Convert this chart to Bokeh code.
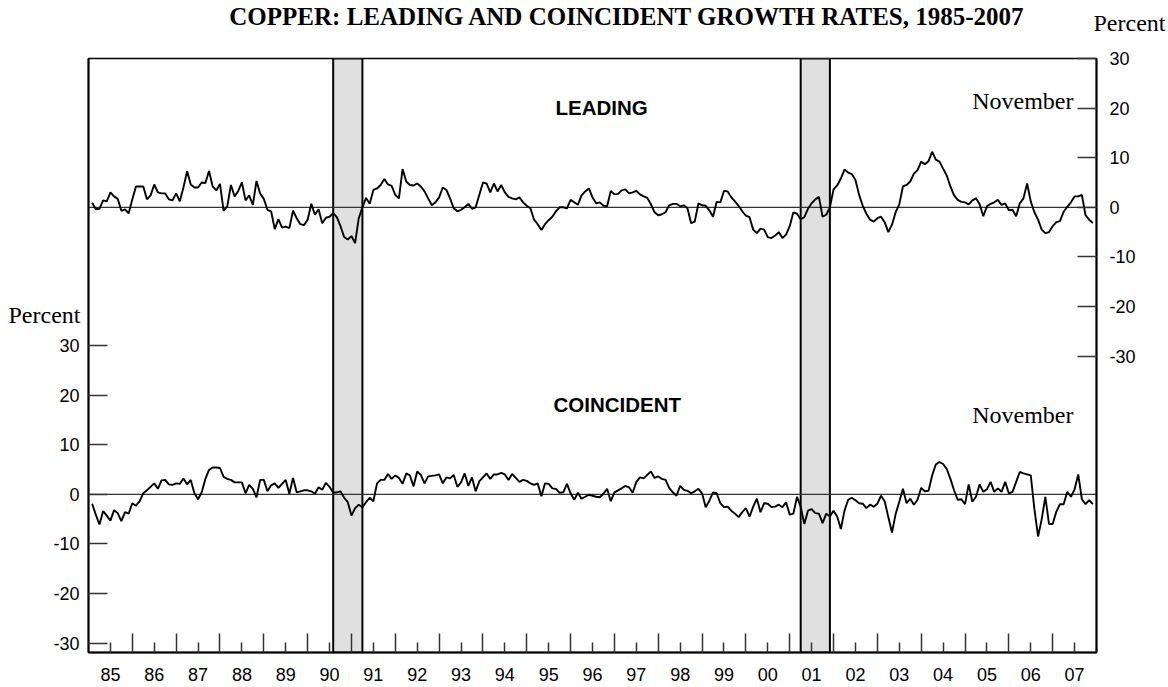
from bokeh.plotting import figure
from bokeh.models import Range1d, LinearAxis, FixedTicker, BoxAnnotation, Span, Label, GridBox
from bokeh.embed import file_html
from bokeh.resources import INLINE

# ---------------- data (monthly, Jan 1985 - Nov 2007) ----------------
start_year = 1985
leading = [
    0.9, -0.4, -0.3, 1.4, 1.2, 3.0, 2.2, 1.7, -0.7, -0.4, -1.2, 1.6,
    4.2, 4.2, 4.2, 1.6, 2.4, 4.6, 3.0, 2.8, 2.8, 1.6, 1.4, 2.8,
    1.2, 4.0, 7.3, 4.6, 4.0, 4.0, 5.0, 4.9, 7.3, 4.2, 3.4, 4.7,
    -0.7, 0.2, 4.5, 2.2, 3.3, 5.0, 1.4, 2.4, 0.5, 5.3, 2.8, 1.7,
    -0.5, -0.8, -4.4, -2.4, -4.1, -3.9, -4.2, -0.7, -2.2, -3.4, -3.6, -2.5,
    0.7, -1.5, -0.4, -3.2, -2.1, -1.9, -1.2, -2.0, -3.8, -6.0, -6.5, -5.8,
    -7.2, -2.2, 0.0, 1.9, 0.7, 3.5, 3.8, 4.5, 5.7, 4.6, 4.3, 2.5,
    1.8, 7.7, 5.2, 4.5, 4.4, 4.8, 4.2, 3.2, 1.8, 0.4, 1.0, 2.0,
    4.0, 3.5, 1.8, -0.2, -0.8, -0.5, 0.0, 0.7, -0.3, 0.0, 2.5, 5.0,
    4.8, 3.0, 4.8, 3.2, 4.5, 3.0, 2.1, 1.8, 1.6, 2.0, 1.0, 0.3,
    -0.2, -2.5, -3.4, -4.6, -3.4, -2.6, -1.9, -0.8, 0.0, 0.0, -0.2, 1.5,
    1.0, 0.5, 2.4, 3.2, 3.8, 2.0, 0.8, 1.0, 0.3, 0.2, 3.3, 2.6,
    2.7, 3.4, 3.6, 2.8, 3.0, 3.3, 2.6, 2.2, 1.9, 0.6, -1.0, -1.6,
    -1.4, -1.0, 0.4, 0.7, 0.7, 0.2, 0.4, -0.2, -3.2, -2.9, 0.8, 0.4,
    0.3, -0.6, -1.9, 1.1, 1.0, 3.3, 3.2, 2.0, 1.2, 0.3, -0.8, -1.7,
    -2.0, -4.5, -5.2, -4.3, -4.5, -6.0, -6.2, -5.7, -5.0, -6.2, -5.5, -3.8,
    -1.0, -1.3, -2.4, -2.0, -0.3, 0.8, 1.6, 2.1, -1.9, -1.5, 0.0, 3.6,
    4.4, 5.8, 7.6, 7.0, 6.7, 5.5, 2.5, 0.3, -1.3, -2.5, -2.9, -2.2,
    -1.9, -3.0, -5.0, -3.5, -1.0, 0.6, 4.2, 4.5, 5.2, 6.8, 7.5, 9.2,
    8.7, 9.3, 11.2, 9.6, 9.2, 7.8, 6.4, 4.2, 2.4, 1.5, 1.1, 1.0,
    0.6, 1.4, 1.8, 0.6, -1.8, 0.2, 0.7, 1.0, 1.5, 0.5, 0.8, -0.6,
    -0.5, -1.8, 0.8, 1.8, 4.8, 1.2, -1.0, -2.5, -4.5, -5.2, -5.0, -3.8,
    -3.0, -2.8, -0.9, 0.1, 1.0, 2.2, 2.2, 2.5, -1.6, -2.5, -3.2,
]
coincident = [
    -1.9, -4.1, -6.1, -3.4, -4.3, -5.3, -3.2, -3.8, -5.4, -3.6, -3.9, -1.8,
    -2.3, -1.4, 0.2, 0.8, 1.5, 2.2, 1.1, 2.8, 2.9, 2.0, 1.9, 2.2,
    2.1, 3.2, 2.0, 2.9, 0.2, -1.0, 0.4, 3.1, 4.9, 5.4, 5.4, 5.3,
    3.5, 3.1, 2.9, 2.4, 2.4, 2.4, 0.2, 1.9, 1.1, -0.6, 2.9, 2.9,
    0.6, 1.8, 2.2, 1.3, 2.1, 2.9, 0.1, 3.3, 0.4, 0.6, 0.8, 0.8,
    0.6, 0.1, 1.4, 0.9, 2.3, 1.5, 0.3, 0.4, 0.6, -0.7, -1.6, -4.3,
    -2.8, -2.1, -2.6, -1.6, -0.7, -1.4, 2.2, 2.9, 2.9, 4.1, 3.1, 3.8,
    3.3, 2.1, 4.2, 3.8, 1.6, 4.6, 3.9, 2.2, 3.6, 3.7, 3.8, 4.0,
    2.2, 3.4, 3.2, 3.9, 1.5, 2.4, 4.2, 1.7, 3.4, 0.6, 2.6, 3.4,
    4.2, 3.1, 4.0, 4.0, 4.3, 4.0, 2.9, 4.1, 3.3, 2.5, 2.9, 2.7,
    2.2, 1.9, 2.2, -0.4, 2.2, 2.1, 1.2, 1.1, 0.3, 0.4, 2.1, 0.2,
    -1.1, 0.3, -0.9, -0.5, -0.1, -0.3, -0.5, -0.6, 0.1, 1.1, -1.4, 0.4,
    0.8, 1.2, 1.7, 1.4, 0.3, 2.5, 3.4, 3.2, 3.9, 4.6, 3.3, 3.6,
    3.1, 2.9, 1.3, 0.4, -0.3, 1.7, 0.9, 0.7, 0.2, 0.6, 1.1, 0.2,
    -2.6, -1.3, 0.4, 0.2, -1.8, -2.6, -2.5, -3.3, -3.9, -4.6, -3.6, -2.8,
    -4.5, -2.5, -0.9, -3.6, -1.8, -1.9, -2.6, -2.5, -2.1, -2.6, -1.6, -4.1,
    -3.9, -0.5, -2.5, -6.0, -3.3, -3.0, -3.8, -3.9, -5.8, -3.9, -4.5, -3.3,
    -4.5, -7.0, -3.3, -1.1, -0.7, -1.2, -1.8, -1.9, -2.8, -2.1, -2.5, -1.9,
    -0.3, -1.4, -4.6, -7.7, -4.0, -1.5, 1.1, -1.8, -0.9, -2.1, -1.1, 1.3,
    0.6, 0.7, 3.8, 6.0, 6.5, 6.1, 5.1, 3.1, 0.8, -1.1, -1.0, -2.0,
    2.0, -1.5, -0.5, 2.0, 0.5, 1.0, 2.5, 0.5, 1.2, 0.5, 2.5, 0.2,
    0.5, 2.5, 4.5, 4.2, 4.0, 3.8, -3.0, -8.5, -5.0, -0.5, -6.0, -6.0,
    -3.5, -2.0, -2.0, 0.5, -0.5, 1.0, 4.0, -1.0, -2.0, -1.2, -2.0,
]
years = list(range(1985, 2008))
year_labels = ["85", "86", "87", "88", "89", "90", "91", "92", "93", "94", "95", "96",
               "97", "98", "99", "00", "01", "02", "03", "04", "05", "06", "07"]
y_ticks = [-30, -20, -10, 0, 10, 20, 30]
y_tick_labels = ["-30", "-20", "-10", "0", "10", "20", "30"]
recession_start = [(1990, 7), (2001, 3)]
recession_end = [(1991, 3), (2001, 11)]

dates = [start_year + (k + 1) / 12 for k in range(len(leading))]

# ---------------- main figure ----------------
SERIF = "Liberation Serif"
SANS = "Liberation Sans"
W, H = 1168, 687
BL, BR, BT, BB = 88, 72, 58, 35   # borders around the plotting frame

p = figure(width=W, height=H, title=None, output_backend="svg", toolbar_location=None,
           x_range=Range1d(1985, 2008), y_range=Range1d(-31.9, 87.86),
           min_border_left=BL, min_border_right=BR, min_border_top=BT, min_border_bottom=BB)
p.extra_y_ranges = {"leading": Range1d(-89.76, 30)}
p.xgrid.visible = False
p.ygrid.visible = False
p.outline_line_color = "black"
p.outline_line_width = 1.5
p.background_fill_color = "white"
p.border_fill_color = "white"

for (sy, sm), (ey, em) in zip(recession_start, recession_end):
    p.add_layout(BoxAnnotation(left=sy + sm / 12, right=ey + em / 12, fill_color="#e0e0e0",
                               fill_alpha=1.0, line_color="black", line_alpha=1.0,
                               line_width=2, level="underlay"))

p.add_layout(Span(location=0, dimension="width", line_color="#333333", line_width=1.3, level="underlay"))
p.add_layout(Span(location=0, dimension="width", y_range_name="leading", line_color="#333333",
                  line_width=1.3, level="underlay"))

p.line(dates, coincident, line_color="black", line_width=1.9)
p.line(dates, leading, line_color="black", line_width=1.9, y_range_name="leading")

xa = p.xaxis[0]
xa.ticker = FixedTicker(ticks=[y + 0.5 for y in years], minor_ticks=[float(y) for y in years[1:]])
xa.major_label_overrides = {y + 0.5: lab for y, lab in zip(years, year_labels)}
xa.major_tick_in = 10
xa.major_tick_out = 0
xa.minor_tick_in = 19
xa.minor_tick_out = 0
xa.major_tick_line_color = "#333333"
xa.minor_tick_line_color = "#333333"
xa.major_tick_line_width = 1.5
xa.minor_tick_line_width = 1.5
xa.axis_line_color = "black"
xa.axis_line_width = 2
xa.major_label_standoff = 15
xa.major_label_text_font = SANS
xa.major_label_text_font_size = "18px"
xa.major_label_text_color = "black"

def style_y(ax, standoff):
    ax.ticker = FixedTicker(ticks=y_ticks)
    ax.major_label_overrides = {t: s for t, s in zip(y_ticks, y_tick_labels)}
    ax.major_tick_in = 19
    ax.major_tick_out = 0
    ax.minor_tick_line_color = None
    ax.major_tick_line_color = "#333333"
    ax.major_tick_line_width = 1.5
    ax.axis_line_color = "black"
    ax.axis_line_width = 2
    ax.major_label_standoff = standoff
    ax.major_label_text_font = SANS
    ax.major_label_text_font_size = "18px"
    ax.major_label_text_color = "black"

style_y(p.yaxis[0], 9)
ra = LinearAxis(y_range_name="leading")
style_y(ra, 13)
p.add_layout(ra, "right")

# ---------------- transparent overlay for the texts (page pixel coordinates) ----------------
ov = figure(width=W, height=H, title=None, output_backend="svg", toolbar_location=None,
            x_range=Range1d(BL, W - BR), y_range=Range1d(H - BB, BT),
            x_axis_location=None, y_axis_location=None,
            min_border_left=BL, min_border_right=BR, min_border_top=BT, min_border_bottom=BB)
ov.xgrid.visible = False
ov.ygrid.visible = False
ov.outline_line_color = None
ov.background_fill_color = None
ov.border_fill_color = None

def add_text(text, x, y, font, size, align="left", bold=False, place="center"):
    lab = Label(x=x, y=y, text=text, text_font=font, text_font_size=size,
                text_align=align, text_baseline="middle", text_color="black",
                text_font_style="bold" if bold else "normal")
    if place == "center":
        ov.add_layout(lab)
    else:
        ov.add_layout(lab, place)

add_text("COPPER:  LEADING AND COINCIDENT GROWTH RATES, 1985-2007", 630, 16, SERIF, "25px",
         align="center", bold=True, place="above")
add_text("Percent", 1093, 22, SERIF, "24px", place="above")
add_text("Percent", 8, 314, SERIF, "24px", place="left")
add_text("November", 1073, 100, SERIF, "24px", align="right")
add_text("November", 1073, 414, SERIF, "24px", align="right")
add_text("LEADING", 555, 106.5, SANS, "20.5px", bold=True)
add_text("COINCIDENT", 553, 404, SANS, "20.5px", bold=True)

layout = GridBox(children=[(p, 0, 0), (ov, 0, 0)])
open("out.html", "w").write(file_html(layout, INLINE))
